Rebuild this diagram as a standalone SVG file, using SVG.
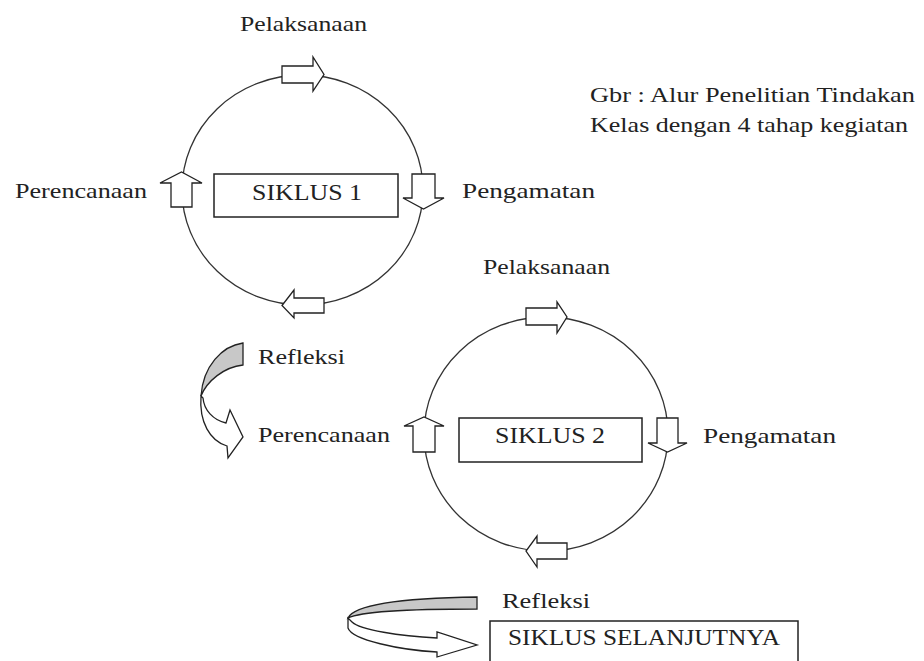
<svg xmlns="http://www.w3.org/2000/svg" width="924" height="661" viewBox="0 0 924 661">
<style>
  text { font-family: "Liberation Serif", "Times New Roman", serif; fill: #222; }
  .lbl { font-size: 21px; }
  .big { font-size: 23px; }
  .cyc { fill: none; stroke: #333; stroke-width: 1.3; }
  .arr { fill: #fff; stroke: #222; stroke-width: 1.3; stroke-linejoin: miter; }
  .box { fill: #fff; stroke: #222; stroke-width: 1.5; }
  .gray { fill: #c8c8c8; stroke: #222; stroke-width: 1.3; }
</style>
<rect width="924" height="661" fill="#fff"/>

<g id="caption">
  <text class="lbl" x="590" y="102" textLength="325" lengthAdjust="spacingAndGlyphs">Gbr : Alur Penelitian Tindakan</text>
  <text class="lbl" x="590" y="132" textLength="318" lengthAdjust="spacingAndGlyphs">Kelas dengan 4 tahap kegiatan</text>
</g>

<g id="cycle1">
  <ellipse class="cyc" cx="302.5" cy="190" rx="120.5" ry="115"/>
  <!-- top, right-pointing -->
  <path class="arr" d="M282,66 H313 V57 L324,74.5 L313,91 V83 H282 Z"/>
  <!-- right, down-pointing -->
  <path class="arr" d="M412,174 H435 V198 H444 L423.5,209 L403,198 H412 Z"/>
  <!-- bottom, left-pointing -->
  <path class="arr" d="M324,298 H294 V290 L282,305.5 L294,318 V313 H324 Z"/>
  <!-- left, up-pointing -->
  <path class="arr" d="M171,207 V183 H160 L181.5,172 L202,183 H192 V207 Z"/>
</g>
<g id="siklus1">
  <rect class="box" x="214" y="174" width="184" height="43"/>
  <text class="big" x="252" y="200" textLength="110" lengthAdjust="spacingAndGlyphs">SIKLUS 1</text>
</g>
<g id="labels1">
  <text class="lbl" x="240" y="31" textLength="127" lengthAdjust="spacingAndGlyphs">Pelaksanaan</text>
  <text class="lbl" x="15" y="198" textLength="132" lengthAdjust="spacingAndGlyphs">Perencanaan</text>
  <text class="lbl" x="462" y="198" textLength="133" lengthAdjust="spacingAndGlyphs">Pengamatan</text>
</g>

<g id="refleksi1">
  <path class="gray" d="M243,343 C222,346 203,366 201,396 C207,381 224,367 243,365 Z"/>
  <path class="arr" d="M201,396 C199,422 210,441 227,446 L228,458 L243,437 L230,410 L226,423 C213,420 204,410 203,398 Z"/>
  <text class="lbl" x="258" y="364" textLength="87" lengthAdjust="spacingAndGlyphs">Refleksi</text>
</g>

<g id="cycle2">
  <ellipse class="cyc" cx="546" cy="434" rx="122" ry="117"/>
  <path class="arr" d="M526,308 H557 V302 L567,317 L557,333 V325 H526 Z"/>
  <path class="arr" d="M657,418 H678 V443 H687 L667.5,452 L648,443 H657 Z"/>
  <path class="arr" d="M567,543 H537 V536 L526,551 L537,567 V559 H567 Z"/>
  <path class="arr" d="M413,452 V426 H404 L424,417 L444,426 H435 V452 Z"/>
</g>
<g id="siklus2">
  <rect class="box" x="459" y="418" width="183" height="44"/>
  <text class="big" x="495" y="443" textLength="110" lengthAdjust="spacingAndGlyphs">SIKLUS 2</text>
</g>
<g id="labels2">
  <text class="lbl" x="483" y="274" textLength="127" lengthAdjust="spacingAndGlyphs">Pelaksanaan</text>
  <text class="lbl" x="258" y="442" textLength="132" lengthAdjust="spacingAndGlyphs">Perencanaan</text>
  <text class="lbl" x="703" y="443" textLength="133" lengthAdjust="spacingAndGlyphs">Pengamatan</text>
</g>

<g id="refleksi2">
  <path class="gray" d="M477,597 C410,598 355,603 348,618 C360,612 410,609 477,609 Z"/>
  <path class="arr" d="M348,618 L348,628 C352,640 400,650 437,652 L437,657 L477,645 L437,632 L437,638 C400,636 360,630 352,622 Z"/>
  <text class="lbl" x="502" y="608" textLength="88" lengthAdjust="spacingAndGlyphs">Refleksi</text>
</g>

<g id="siklus-selanjutnya">
  <rect class="box" x="490" y="621" width="308" height="60"/>
  <text class="big" x="508" y="645" textLength="272" lengthAdjust="spacingAndGlyphs">SIKLUS SELANJUTNYA</text>
</g>
</svg>
